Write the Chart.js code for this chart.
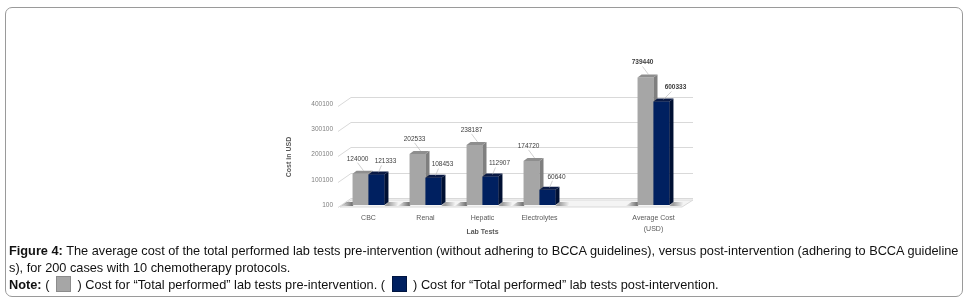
<!DOCTYPE html>
<html>
<head>
<meta charset="utf-8">
<script src="https://cdn.jsdelivr.net/npm/chart.js@4.4.1/dist/chart.umd.min.js"></script>
<style>
  html, body { margin: 0; padding: 0; background: #fff; }
  body { width: 973px; height: 301px; position: relative; overflow: hidden; font-family: "Liberation Sans", Arial, sans-serif; }
  #frame { position: absolute; left: 5px; top: 7px; width: 956px; height: 288px; border: 1px solid #9a9a9a; border-radius: 7px; }
  #chart { position: absolute; left: 0; top: 0; }
  #caption { position: absolute; left: 9px; top: 243px; width: 960px; font-size: 12.75px; line-height: 16.5px; color: #111; white-space: nowrap; }
  .sw { display: inline-block; width: 13px; height: 14px; vertical-align: -3px; margin: 0 3px; }
  .sw.pre { background: #a6a6a6; border: 1px solid #8c8c8c; }
  .sw.post { background: #002060; border: 1px solid #001540; }
</style>
</head>
<body>
<div id="frame"></div>
<canvas id="chart" width="973" height="301"></canvas>
<div id="caption">
  <b>Figure 4:</b> The average cost of the total performed lab tests pre-intervention (without adhering to BCCA guidelines), versus post-intervention (adhering to BCCA guideline<br>
  s), for 200 cases with 10 chemotherapy protocols.<br>
  <b>Note:</b> ( <span class="sw pre"></span> ) Cost for “Total performed” lab tests pre-intervention. ( <span class="sw post"></span> ) Cost for “Total performed” lab tests post-intervention.
</div>
<script>
// categories and values
const categories = ['CBC', 'Renal', 'Hepatic', 'Electrolytes', '', ['Average Cost', '(USD)']];
const preValues = [124000, 202533, 238187, 174720, null, null];
const postValues = [121333, 108453, 112907, 60640, null, null];
const avgPreValues = [null, null, null, null, null, 739440];
const avgPostValues = [null, null, null, null, null, 600333];
const yTicks = [100, 100100, 200100, 300100, 400100];

const GRAY = '#a6a6a6', GRAY_SIDE = '#7f7f7f', GRAY_TOP = '#8e8e8e';
const BLUE = '#002060', BLUE_SIDE = '#001033', BLUE_TOP = '#0a1a45';
const FONT = '"Liberation Sans", Arial, sans-serif';

// fake 3D look: back wall, floor, bar sides and tops, value labels
const threeD = {
  id: 'threeD',
  beforeDatasetsDraw(chart) {
    const ctx = chart.ctx, y = chart.scales.y, a = chart.chartArea;
    const wx = 11, wy = 7;
    ctx.save();
    // floor
    const b = y.getPixelForValue(yTicks[0]);
    ctx.fillStyle = '#f4f4f4';
    ctx.strokeStyle = '#d9d9d9';
    ctx.lineWidth = 1;
    ctx.beginPath();
    ctx.moveTo(a.left, b + 2); ctx.lineTo(a.right, b + 2);
    ctx.lineTo(a.right + wx, b + 2 - wy); ctx.lineTo(a.left + wx, b + 2 - wy);
    ctx.closePath(); ctx.fill(); ctx.stroke();
    // back wall gridlines
    ctx.strokeStyle = '#d9d9d9';
    yTicks.forEach(v => {
      const py = Math.round(y.getPixelForValue(v)) + 0.5;
      ctx.beginPath();
      ctx.moveTo(a.left - 2, py + 2);
      ctx.lineTo(a.left + wx, py - wy);
      ctx.lineTo(a.right + wx, py - wy);
      ctx.stroke();
    });
    // shadows at the base of each bar pair
    chart.getDatasetMeta(0).data.concat(chart.getDatasetMeta(2).data).forEach(el => {
      if (el.y == null || isNaN(el.y) || el.base === el.y) return;
      const x0 = el.x - el.width / 2;
      const g = ctx.createLinearGradient(x0 - 12, 0, x0, 0);
      g.addColorStop(0, 'rgba(0,0,0,0)');
      g.addColorStop(1, 'rgba(0,0,0,0.55)');
      ctx.fillStyle = g;
      ctx.beginPath();
      ctx.moveTo(x0 - 12, el.base + 1); ctx.lineTo(x0, el.base + 1);
      ctx.lineTo(x0 + 4, el.base - 3); ctx.lineTo(x0 - 6, el.base - 3);
      ctx.closePath(); ctx.fill();
      const x1 = el.x + el.width * 1.5 + 4;
      const g2 = ctx.createLinearGradient(x1, 0, x1 + 10, 0);
      g2.addColorStop(0, 'rgba(0,0,0,0.35)');
      g2.addColorStop(1, 'rgba(0,0,0,0)');
      ctx.fillStyle = g2;
      ctx.beginPath();
      ctx.moveTo(x1 - 4, el.base + 1); ctx.lineTo(x1 + 8, el.base + 1);
      ctx.lineTo(x1 + 12, el.base - 3); ctx.lineTo(x1, el.base - 3);
      ctx.closePath(); ctx.fill();
    });
    ctx.restore();
  },
  afterDatasetsDraw(chart) {
    const ctx = chart.ctx;
    const dx = 4, dy = 3;
    const faces = (idx, side, top) => {
      chart.getDatasetMeta(idx).data.forEach(el => {
        if (el.y == null || isNaN(el.y) || el.base === el.y) return;
        const l = el.x - el.width / 2, r = el.x + el.width / 2;
        ctx.fillStyle = side;
        ctx.beginPath();
        ctx.moveTo(r, el.y); ctx.lineTo(r + dx, el.y - dy);
        ctx.lineTo(r + dx, el.base - dy); ctx.lineTo(r, el.base);
        ctx.closePath(); ctx.fill();
        ctx.fillStyle = top;
        ctx.beginPath();
        ctx.moveTo(l, el.y); ctx.lineTo(l + dx, el.y - dy);
        ctx.lineTo(r + dx, el.y - dy); ctx.lineTo(r, el.y);
        ctx.closePath(); ctx.fill();
      });
    };
    ctx.save();
    faces(0, GRAY_SIDE, GRAY_TOP);
    faces(2, GRAY_SIDE, GRAY_TOP);
    // blue fronts go over the grey side faces
    [1, 3].forEach(i => chart.getDatasetMeta(i).data.forEach(el => el.draw(ctx)));
    faces(1, BLUE_SIDE, BLUE_TOP);
    faces(3, BLUE_SIDE, BLUE_TOP);

    // value labels with leader lines
    ctx.textAlign = 'center';
    ctx.textBaseline = 'middle';
    ctx.fillStyle = '#404040';
    ctx.strokeStyle = '#b0b0b0';
    ctx.lineWidth = 0.6;
    chart.data.datasets.forEach((ds, i) => {
      const isPost = i % 2 === 1;
      ctx.font = (i >= 2 ? 'bold ' : '') + '6.5px ' + FONT;
      chart.getDatasetMeta(i).data.forEach((el, j) => {
        const v = ds.data[j];
        if (v == null) return;
        const lx = el.x + (isPost ? (i >= 2 ? 14 : 9) : -3);
        const ly = el.y - (isPost ? (i >= 2 ? 14 : 13) : 15);
        ctx.fillText(String(v), lx, ly);
        ctx.beginPath();
        if (isPost) { ctx.moveTo(lx - 4, ly + 4); ctx.lineTo(el.x + 2, el.y - 2); }
        else { ctx.moveTo(lx, ly + 4); ctx.lineTo(el.x + 3, el.y - 3); }
        ctx.stroke();
      });
    });

    // axis titles
    ctx.font = 'bold 7px ' + FONT;
    ctx.fillStyle = '#595959';
    ctx.fillText('Lab Tests', chart.scales.x.getPixelForValue(2), 232);
    ctx.translate(289, 157);
    ctx.rotate(-Math.PI / 2);
    ctx.fillText('Cost in USD', 0, 0);
    ctx.restore();
  }
};

new Chart(document.getElementById('chart'), {
  type: 'bar',
  data: {
    labels: categories,
    datasets: [
      { label: 'Pre-intervention', data: preValues, backgroundColor: GRAY, yAxisID: 'y' },
      { label: 'Post-intervention', data: postValues, backgroundColor: BLUE, yAxisID: 'y' },
      { label: 'Pre-intervention (average)', data: avgPreValues, backgroundColor: GRAY, yAxisID: 'y2' },
      { label: 'Post-intervention (average)', data: avgPostValues, backgroundColor: BLUE, yAxisID: 'y2' }
    ]
  },
  options: {
    responsive: false,
    animation: false,
    skipNull: true,
    categoryPercentage: 0.56,
    barPercentage: 1.0,
    layout: { padding: { left: 283, right: 291, top: 60, bottom: 61 } },
    plugins: {
      legend: { display: false },
      tooltip: { enabled: false }
    },
    scales: {
      x: {
        grid: { display: false, drawTicks: false },
        border: { display: false },
        ticks: { color: '#595959', font: { family: FONT, size: 7, lineHeight: 1.5 }, padding: 8, maxRotation: 0 },
        afterFit: s => { s.height = 35; }
      },
      y: {
        min: 100,
        max: 574300,
        grid: { display: false, drawTicks: false },
        border: { display: false },
        afterBuildTicks: s => { s.ticks = yTicks.map(v => ({ value: v })); },
        ticks: { color: '#7f7f7f', font: { family: FONT, size: 6.5 }, padding: 7, callback: v => String(v) },
        afterFit: s => { s.width = 57; }
      },
      // the average column sits on its own, compressed scale in the figure
      y2: { display: false, min: 0, max: 841000 }
    }
  },
  plugins: [threeD]
});
</script>
</body>
</html>
